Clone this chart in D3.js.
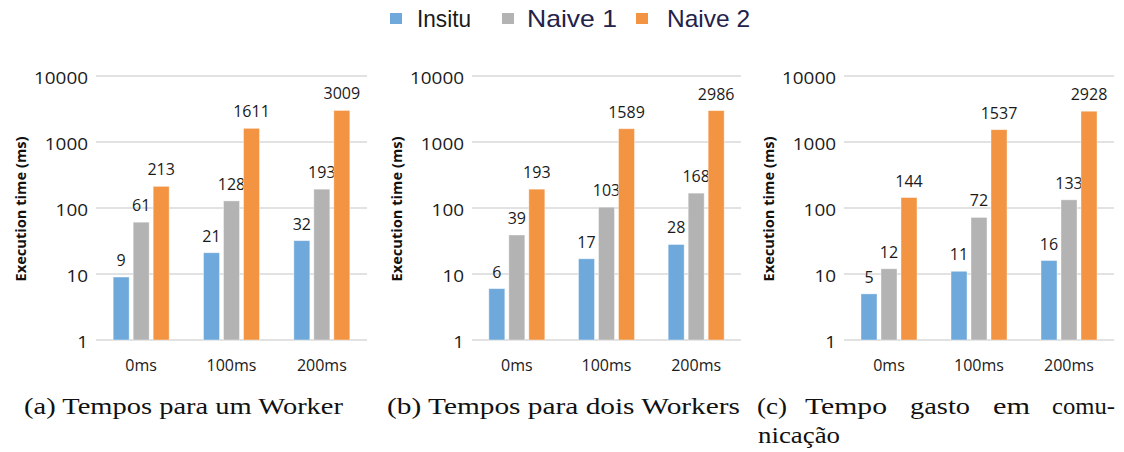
<!DOCTYPE html>
<html>
<head>
<meta charset="utf-8">
<script src="https://cdn.jsdelivr.net/npm/d3@7"></script>
<style>
  html, body { margin: 0; padding: 0; background: #fff; }
  svg { display: block; }
</style>
</head>
<body>
<svg id="chart" width="1124" height="452"></svg>
<script>
// ---- data ----
const categories = ["0ms", "100ms", "200ms"];
const seriesNames = ["Insitu", "Naive 1", "Naive 2"];
const seriesColors = ["#6fa9dc", "#b3b3b3", "#f39443"];
const yTicks = [1, 10, 100, 1000, 10000];
const yTitle = "Execution time (ms)";

const panelAInsitu = [9, 21, 32];
const panelANaive1 = [61, 128, 193];
const panelANaive2 = [213, 1611, 3009];

const panelBInsitu = [6, 17, 28];
const panelBNaive1 = [39, 103, 168];
const panelBNaive2 = [193, 1589, 2986];

const panelCInsitu = [5, 11, 16];
const panelCNaive1 = [12, 72, 133];
const panelCNaive2 = [144, 1537, 2928];

const captionA = "(a) Tempos para um Worker";
const captionB = "(b) Tempos para dois Workers";
const captionCLine1 = ["(c)", "Tempo", "gasto", "em", "comu-"];
const captionCLine2 = "nicação";

// ---- layout ----
const svg = d3.select("#chart");
const panels = [
  { x0: 96, x1: 367, series: [panelAInsitu, panelANaive1, panelANaive2] },
  { x0: 472, x1: 741, series: [panelBInsitu, panelBNaive1, panelBNaive2] },
  { x0: 844, x1: 1114, series: [panelCInsitu, panelCNaive1, panelCNaive2] }
];
const yTop = 76, yBottom = 340;
const calibri = "'Open Sans', 'Liberation Sans', sans-serif";

panels.forEach(p => {
  const g = svg.append("g");
  const y = d3.scaleLog().domain([1, 10000]).range([yBottom, yTop]);
  const x0 = d3.scaleBand().domain(categories).range([p.x0, p.x1]).padding(0);
  const groupW = 56;
  const x1 = d3.scaleBand().domain(d3.range(seriesNames.length)).range([0, groupW]).paddingInner(0.2).paddingOuter(0);

  // gridlines
  g.selectAll("line.grid").data(yTicks).join("line")
    .attr("x1", p.x0).attr("x2", p.x1)
    .attr("y1", d => y(d)).attr("y2", d => y(d))
    .attr("stroke", "#d9d9d9").attr("stroke-width", 1.3);

  // y tick labels
  g.selectAll("text.ytick").data(yTicks).join("text")
    .attr("x", p.x0 - 8).attr("y", d => y(d) + 8)
    .attr("text-anchor", "end")
    .attr("font-family", calibri).attr("font-size", 16)
    .attr("fill", "#1a1a1a")
    .attr("textLength", d => String(d).length * 10.8)
    .attr("lengthAdjust", "spacingAndGlyphs")
    .text(d => d);

  // y title
  g.append("text")
    .attr("transform", `translate(${p.x0 - 76},${(yTop + yBottom) / 2 + 1}) rotate(-90)`)
    .attr("text-anchor", "middle")
    .attr("dominant-baseline", "central")
    .attr("font-family", calibri).attr("font-size", 14).attr("font-weight", "bold")
    .attr("fill", "#111")
    .attr("textLength", 145).attr("lengthAdjust", "spacingAndGlyphs")
    .text(yTitle);

  // bars
  categories.forEach((c, ci) => {
    const gx = x0(c) + (x0.bandwidth() - groupW) / 2;
    p.series.forEach((vals, si) => {
      const v = vals[ci];
      g.append("rect")
        .attr("x", gx + x1(si)).attr("width", x1.bandwidth())
        .attr("y", y(v)).attr("height", y(1) - y(v))
        .attr("fill", seriesColors[si])
        .attr("stroke", "#ffffff").attr("stroke-opacity", 0.5).attr("stroke-width", 0.8);
      g.append("text")
        .attr("x", gx + x1(si) + x1.bandwidth() / 2)
        .attr("y", y(v) - 11)
        .attr("text-anchor", "middle")
        .attr("font-family", calibri).attr("font-size", 16)
        .attr("fill", "#1a1a1a")
        .text(v);
    });
  });

  // x labels
  g.selectAll("text.xlab").data(categories).join("text")
    .attr("x", d => x0(d) + x0.bandwidth() / 2)
    .attr("y", 371)
    .attr("text-anchor", "middle")
    .attr("font-family", calibri).attr("font-size", 16)
    .attr("fill", "#1a1a1a")
    .text(d => d);
});

// ---- legend ----
const legendItems = [
  { sx: 390, tx: 417, tw: 54, color: "#1a1a1a" },
  { sx: 502, tx: 527, tw: 90, color: "#22224a" },
  { sx: 636, tx: 667, tw: 83, color: "#22224a" }
];
seriesNames.forEach((name, i) => {
  const it = legendItems[i];
  svg.append("rect")
    .attr("x", it.sx).attr("y", 13).attr("width", 12).attr("height", 11)
    .attr("fill", seriesColors[i]);
  svg.append("text")
    .attr("x", it.tx).attr("y", 27)
    .attr("font-family", "'Liberation Sans', Arial, sans-serif").attr("font-size", 24)
    .attr("fill", it.color)
    .attr("textLength", it.tw).attr("lengthAdjust", "spacingAndGlyphs")
    .text(name);
});

// ---- captions ----
const serif = "'Liberation Serif', 'DejaVu Serif', serif";
function cap(txt, x, yb, w) {
  svg.append("text")
    .attr("x", x).attr("y", yb)
    .attr("font-family", serif).attr("font-size", 24)
    .attr("fill", "#111")
    .attr("textLength", w).attr("lengthAdjust", "spacingAndGlyphs")
    .text(txt);
}
cap(captionA, 24, 414, 319);
cap(captionB, 387, 414, 353);
const cWords = [[757, 30], [805, 82], [910, 60], [993, 37], [1052, 63]];
captionCLine1.forEach((w, i) => cap(w, cWords[i][0], 414, cWords[i][1]));
cap(captionCLine2, 758, 443, 82);
</script>
</body>
</html>
